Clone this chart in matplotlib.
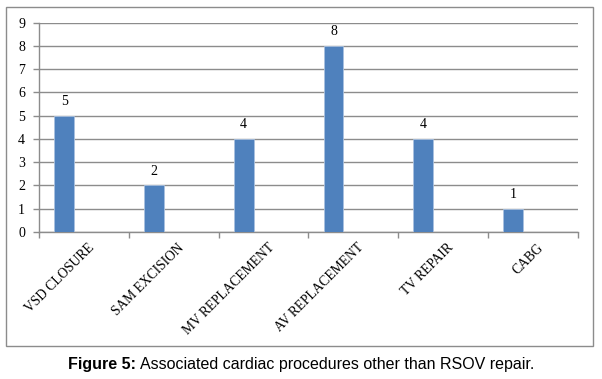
import matplotlib
matplotlib.use("Agg")
import matplotlib.pyplot as plt
from matplotlib.patches import Rectangle

categories = ["VSD CLOSURE", "SAM EXCISION", "MV REPLACEMENT", "AV REPLACEMENT", "TV REPAIR", "CABG"]
values = [5, 2, 4, 8, 4, 1]
yticks = list(range(0, 10))

W, H = 602, 379
fig = plt.figure(figsize=(W / 100, H / 100), dpi=100)

# outer frame
fig.patches.append(Rectangle((6 / W, 1 - 346 / H), 587 / W, 339 / H, transform=fig.transFigure,
                             fill=False, edgecolor="#8c8c8c", linewidth=1.0))

ax = fig.add_axes([39 / W, 1 - 232 / H, (577.7 - 39) / W, (232 - 22.7) / H])
grid_c = "#8c8c8c"
serif = "Liberation Serif"

n = len(categories)
xs = [i + 0.28 for i in range(n)]
ax.bar(xs, values, width=0.22, color="#4F81BD", edgecolor="#a9c1e0", linewidth=0.6, zorder=3)
for x, v in zip(xs, values):
    ax.text(x, v + 0.33, str(v), ha="center", va="bottom", fontsize=10, family=serif, color="#000000")

ax.set_xlim(0, n)
ax.set_ylim(0, 9)
ax.set_yticks(yticks)
ax.set_yticklabels([str(t) for t in yticks], family=serif, fontsize=10)
ax.yaxis.grid(True, color=grid_c, linewidth=1.0, zorder=0)
ax.set_axisbelow(True)

ax.set_xticks(range(n + 1))
ax.set_xticklabels([])
ax.tick_params(axis="both", direction="out", length=4, color=grid_c, width=1.0)
ax.tick_params(axis="y", pad=6)
for s in ["top", "right"]:
    ax.spines[s].set_visible(False)
for s in ["left", "bottom"]:
    ax.spines[s].set_color(grid_c)
    ax.spines[s].set_linewidth(1.0)

for i, c in enumerate(categories):
    ax.annotate(c, xy=(i + 0.5, 0), xycoords=("data", "axes fraction"),
                xytext=(3, -6.5), textcoords="offset points",
                rotation=45, ha="right", va="top", rotation_mode="anchor",
                family=serif, fontsize=9.75)

# caption
cy = 1 - 365 / H
t1 = fig.text(0, cy, "Figure 5:", fontsize=11.5, fontweight="bold",
              family="Liberation Sans", ha="left", va="center")
t2 = fig.text(0, cy, "Associated cardiac procedures other than RSOV repair.",
              fontsize=11.5, family="Liberation Sans", ha="left", va="center")
fig.canvas.draw()
w1 = t1.get_window_extent().width
w2 = t2.get_window_extent().width
gap = 4
total = w1 + gap + w2
x0 = 301 - total / 2
t1.set_x(x0 / W)
t2.set_x((x0 + w1 + gap) / W)

fig.savefig("out.png", dpi=100)
